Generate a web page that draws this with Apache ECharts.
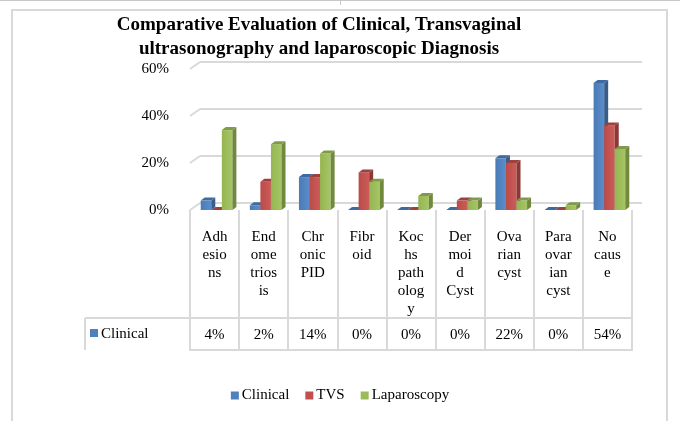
<!DOCTYPE html>
<html>
<head>
<meta charset="utf-8">
<script src="https://cdn.jsdelivr.net/npm/echarts@6/dist/echarts.min.js"></script>
<style>
  html, body { margin: 0; padding: 0; background: #fff; }
  #chart { width: 680px; height: 421px; }
</style>
</head>
<body>
<div id="chart"></div>
<script>
var categories = ['Adhesions', 'Endometriosis', 'Chronic PID', 'Fibroid', 'Kochs pathology', 'Dermoid Cyst', 'Ovarian cyst', 'Paraovarian cyst', 'No cause'];
// labels as they are wrapped inside the data table cells
var tableLabels = ['Adh\nesio\nns', 'End\nome\ntrios\nis', 'Chr\nonic\nPID', 'Fibr\noid', 'Koc\nhs\npath\nolog\ny', 'Der\nmoi\nd\nCyst', 'Ova\nrian\ncyst', 'Para\novar\nian\ncyst', 'No\ncaus\ne'];
var clinical = [4, 2, 14, 0, 0, 0, 22, 0, 54];
var tvs = [0, 12, 14, 16, 0, 4, 20, 0, 36];
var laparoscopy = [34, 28, 24, 12, 6, 4, 4, 2, 26];
var yTicks = [0, 20, 40, 60];

var serif = 'Liberation Serif, Times New Roman, serif';
var gridColor = '#d9d9d9';

var myChart = echarts.init(document.getElementById('chart'));

// 3d-looking column: front face + side + top
function bar3d(pos, front, side, topc) {
    return function (params, api) {
        var i = api.value(0), v = api.value(1);
        var base = api.coord([i, 0]);
        var top = api.coord([i, v]);
        var band = api.size([1, 0])[0];
        var bw = band * 0.215;
        var x0 = base[0] + 2 - 1.5 * bw + pos * bw;
        var dx = 4, dy = 3;
        return {
            type: 'group',
            children: [
                { type: 'rect', shape: { x: x0, y: top[1], width: bw, height: base[1] - top[1] },
                  style: { fill: new echarts.graphic.LinearGradient(0, 0, 1, 0, [{ offset: 0, color: front[0] }, { offset: 1, color: front[1] }]) } },
                { type: 'polygon', shape: { points: [[x0 + bw, top[1]], [x0 + bw + dx, top[1] - dy], [x0 + bw + dx, base[1] - dy], [x0 + bw, base[1]]] },
                  style: { fill: side } },
                { type: 'polygon', shape: { points: [[x0, top[1]], [x0 + dx, top[1] - dy], [x0 + bw + dx, top[1] - dy], [x0 + bw, top[1]]] },
                  style: { fill: topc } }
            ]
        };
    };
}

function toData(arr) {
    return arr.map(function (v, i) { return [i, v]; });
}

var option = {
    animation: false,
    title: {
        text: 'Comparative Evaluation of Clinical, Transvaginal\nultrasonography and laparoscopic Diagnosis',
        left: 314, top: 8, textAlign: 'center',
        textStyle: { fontFamily: serif, fontSize: 19, fontWeight: 'bold', color: '#000', lineHeight: 24 }
    },
    legend: {
        data: ['Clinical', 'TVS', 'Laparoscopy'],
        left: 'center', top: 383,
        icon: 'rect', itemWidth: 8, itemHeight: 8, itemGap: 16,
        textStyle: { fontFamily: serif, fontSize: 15, color: '#000', padding: [0, 0, 0, -2] }
    },
    grid: [
        { left: 190, top: 69, width: 442, height: 141 },
        { left: 200, top: 62, width: 442, height: 141 },
        { left: 190, top: 210, width: 442, height: 108 },
        { left: 190, top: 318, width: 442, height: 32 }
    ],
    xAxis: [
        { gridIndex: 0, type: 'category', data: categories, show: false },
        { gridIndex: 1, type: 'category', data: categories, show: false },
        { gridIndex: 2, type: 'category', data: categories, position: 'top',
          axisLine: { lineStyle: { color: gridColor, width: 2 } },
          axisTick: { show: false },
          splitLine: { show: true, lineStyle: { color: gridColor, width: 2 } },
          axisLabel: { inside: true, margin: 18, verticalAlign: 'top', interval: 0,
                       fontFamily: serif, fontSize: 15, lineHeight: 18, color: '#000',
                       formatter: function (val, idx) { return tableLabels[idx]; } } },
        { gridIndex: 3, type: 'category', data: categories, position: 'top',
          axisLine: { lineStyle: { color: gridColor, width: 2 } },
          axisTick: { show: false },
          splitLine: { show: true, lineStyle: { color: gridColor, width: 2 } },
          axisLabel: { inside: true, margin: 17, verticalAlign: 'middle', interval: 0,
                       fontFamily: serif, fontSize: 15, color: '#000',
                       formatter: function (val, idx) { return clinical[idx] + '%'; } } }
    ],
    yAxis: [
        { gridIndex: 0, type: 'value', min: 0, max: 60, interval: 20,
          axisLine: { show: false }, axisTick: { show: false }, splitLine: { show: false },
          axisLabel: { formatter: '{value}%', margin: 21, fontFamily: serif, fontSize: 15, color: '#000', padding: [4, 0, 0, 0] } },
        { gridIndex: 1, type: 'value', min: 0, max: 60, interval: 20,
          axisLine: { show: false }, axisTick: { show: false }, axisLabel: { show: false },
          splitLine: { show: true, lineStyle: { color: gridColor, width: 2 } } },
        { gridIndex: 2, type: 'value', show: false },
        { gridIndex: 3, type: 'value', show: false }
    ],
    series: [
        { // slanted connectors from the axis labels to the back wall gridlines
          type: 'custom', xAxisIndex: 0, yAxisIndex: 0, silent: true,
          data: yTicks.map(function (t) { return [0, t]; }),
          renderItem: function (params, api) {
              var p = api.coord([api.value(0), api.value(1)]);
              var x = p[0] - api.size([1, 0])[0] / 2;
              return { type: 'line', shape: { x1: x, y1: p[1], x2: x + 10, y2: p[1] - 7 },
                       style: { stroke: gridColor, lineWidth: 2 } };
          } },
        { name: 'Clinical', type: 'custom', xAxisIndex: 0, yAxisIndex: 0,
          itemStyle: { color: '#4F81BD' }, data: toData(clinical),
          renderItem: bar3d(0, ['#4A7BB7', '#5B8DCB'], '#385D8A', '#3D6AA0') },
        { name: 'TVS', type: 'custom', xAxisIndex: 0, yAxisIndex: 0,
          itemStyle: { color: '#C0504D' }, data: toData(tvs),
          renderItem: bar3d(1, ['#BA4B48', '#CB5C59'], '#8C3836', '#9E403D') },
        { name: 'Laparoscopy', type: 'custom', xAxisIndex: 0, yAxisIndex: 0,
          itemStyle: { color: '#9BBB59' }, data: toData(laparoscopy),
          renderItem: bar3d(2, ['#95B553', '#A6C665'], '#71893F', '#7F9A48') }
    ],
    graphic: [
        // page line and chart frame
        { type: 'line', shape: { x1: 0, y1: 0.5, x2: 680, y2: 0.5 }, style: { stroke: '#c8c8c8', lineWidth: 1 } },
        { type: 'line', shape: { x1: 340.5, y1: 0, x2: 340.5, y2: 5 }, style: { stroke: '#c8c8c8', lineWidth: 1 } },
        { type: 'rect', shape: { x: 12, y: 10, width: 655, height: 420 }, style: { fill: null, stroke: gridColor, lineWidth: 2 } },
        // legend key cell of the data table
        { type: 'line', shape: { x1: 85, y1: 318, x2: 190, y2: 318 }, style: { stroke: gridColor, lineWidth: 2 } },
        { type: 'line', shape: { x1: 85, y1: 318, x2: 85, y2: 350 }, style: { stroke: gridColor, lineWidth: 2 } },
        { type: 'rect', shape: { x: 90, y: 329, width: 8, height: 8 }, style: { fill: '#4F81BD' } },
        { type: 'text', x: 101, y: 334, style: { text: 'Clinical', font: '15px ' + serif, fill: '#000', verticalAlign: 'middle' } }
    ]
};

myChart.setOption(option);
window.addEventListener('resize', function () {
    myChart.resize();
});
</script>
</body>
</html>
